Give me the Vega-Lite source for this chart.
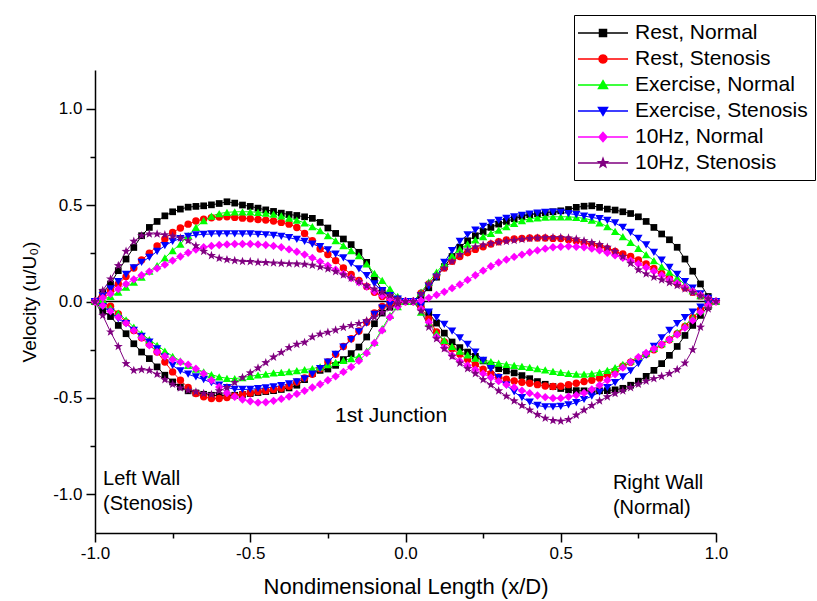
{
"$schema":"https://vega.github.io/schema/vega-lite/v6.json",
"width":621,"height":463,
"autosize":{"type":"none"},
"padding":{"left":95,"top":70,"right":101,"bottom":68},
"background":"white",
"config":{"view":{"stroke":null},"font":"Liberation Sans",
"axis":{"grid":false,"domainColor":"black","domainWidth":1.5,"tickColor":"black","tickWidth":1.5,"labelColor":"black","labelFont":"Liberation Sans","titleFont":"Liberation Sans","titleFontWeight":"normal","titleColor":"black","labelOverlap":false,"labelFlush":false}},
"data":{"values":[
{"s":"RN","x":-1,"y":0},{"s":"RN","x":-0.975,"y":0.048},{"s":"RN","x":-0.95,"y":0.091},{"s":"RN","x":-0.925,"y":0.16},{"s":"RN","x":-0.9,"y":0.22},{"s":"RN","x":-0.875,"y":0.28},{"s":"RN","x":-0.85,"y":0.341},{"s":"RN","x":-0.825,"y":0.384},{"s":"RN","x":-0.8,"y":0.415},{"s":"RN","x":-0.775,"y":0.444},{"s":"RN","x":-0.75,"y":0.465},{"s":"RN","x":-0.725,"y":0.479},{"s":"RN","x":-0.7,"y":0.489},{"s":"RN","x":-0.675,"y":0.493},{"s":"RN","x":-0.65,"y":0.496},{"s":"RN","x":-0.625,"y":0.501},{"s":"RN","x":-0.6,"y":0.508},{"s":"RN","x":-0.575,"y":0.517},{"s":"RN","x":-0.55,"y":0.51},{"s":"RN","x":-0.525,"y":0.5},{"s":"RN","x":-0.5,"y":0.493},{"s":"RN","x":-0.475,"y":0.484},{"s":"RN","x":-0.45,"y":0.475},{"s":"RN","x":-0.425,"y":0.467},{"s":"RN","x":-0.4,"y":0.458},{"s":"RN","x":-0.375,"y":0.451},{"s":"RN","x":-0.35,"y":0.446},{"s":"RN","x":-0.325,"y":0.439},{"s":"RN","x":-0.3,"y":0.431},{"s":"RN","x":-0.275,"y":0.41},{"s":"RN","x":-0.25,"y":0.381},{"s":"RN","x":-0.225,"y":0.353},{"s":"RN","x":-0.2,"y":0.324},{"s":"RN","x":-0.175,"y":0.295},{"s":"RN","x":-0.15,"y":0.255},{"s":"RN","x":-0.125,"y":0.203},{"s":"RN","x":-0.1,"y":0.122},{"s":"RN","x":-0.075,"y":0.057},{"s":"RN","x":-0.05,"y":0.028},{"s":"RN","x":-0.025,"y":0.012},{"s":"RN","x":0,"y":0},
{"s":"RN","x":0.025,"y":0},{"s":"RN","x":0.05,"y":0.031},{"s":"RN","x":0.075,"y":0.071},{"s":"RN","x":0.1,"y":0.126},{"s":"RN","x":0.125,"y":0.181},{"s":"RN","x":0.15,"y":0.233},{"s":"RN","x":0.175,"y":0.281},{"s":"RN","x":0.2,"y":0.315},{"s":"RN","x":0.225,"y":0.341},{"s":"RN","x":0.25,"y":0.363},{"s":"RN","x":0.275,"y":0.384},{"s":"RN","x":0.3,"y":0.401},{"s":"RN","x":0.325,"y":0.415},{"s":"RN","x":0.35,"y":0.429},{"s":"RN","x":0.375,"y":0.441},{"s":"RN","x":0.4,"y":0.45},{"s":"RN","x":0.425,"y":0.455},{"s":"RN","x":0.45,"y":0.46},{"s":"RN","x":0.475,"y":0.465},{"s":"RN","x":0.5,"y":0.47},{"s":"RN","x":0.525,"y":0.477},{"s":"RN","x":0.55,"y":0.488},{"s":"RN","x":0.575,"y":0.494},{"s":"RN","x":0.6,"y":0.496},{"s":"RN","x":0.625,"y":0.488},{"s":"RN","x":0.65,"y":0.479},{"s":"RN","x":0.675,"y":0.474},{"s":"RN","x":0.7,"y":0.465},{"s":"RN","x":0.725,"y":0.456},{"s":"RN","x":0.75,"y":0.439},{"s":"RN","x":0.775,"y":0.415},{"s":"RN","x":0.8,"y":0.384},{"s":"RN","x":0.825,"y":0.35},{"s":"RN","x":0.85,"y":0.32},{"s":"RN","x":0.875,"y":0.281},{"s":"RN","x":0.9,"y":0.22},{"s":"RN","x":0.925,"y":0.157},{"s":"RN","x":0.95,"y":0.091},{"s":"RN","x":0.975,"y":0.026},{"s":"RN","x":1,"y":0},
{"s":"RN","x":0.975,"y":-0.026},{"s":"RN","x":0.95,"y":-0.072},{"s":"RN","x":0.925,"y":-0.124},{"s":"RN","x":0.9,"y":-0.176},{"s":"RN","x":0.875,"y":-0.233},{"s":"RN","x":0.85,"y":-0.279},{"s":"RN","x":0.825,"y":-0.322},{"s":"RN","x":0.8,"y":-0.357},{"s":"RN","x":0.775,"y":-0.388},{"s":"RN","x":0.75,"y":-0.413},{"s":"RN","x":0.725,"y":-0.434},{"s":"RN","x":0.7,"y":-0.45},{"s":"RN","x":0.675,"y":-0.458},{"s":"RN","x":0.65,"y":-0.462},{"s":"RN","x":0.625,"y":-0.463},{"s":"RN","x":0.6,"y":-0.465},{"s":"RN","x":0.575,"y":-0.463},{"s":"RN","x":0.55,"y":-0.462},{"s":"RN","x":0.525,"y":-0.458},{"s":"RN","x":0.5,"y":-0.451},{"s":"RN","x":0.475,"y":-0.441},{"s":"RN","x":0.45,"y":-0.429},{"s":"RN","x":0.425,"y":-0.415},{"s":"RN","x":0.4,"y":-0.4},{"s":"RN","x":0.375,"y":-0.384},{"s":"RN","x":0.35,"y":-0.37},{"s":"RN","x":0.325,"y":-0.36},{"s":"RN","x":0.3,"y":-0.348},{"s":"RN","x":0.275,"y":-0.331},{"s":"RN","x":0.25,"y":-0.308},{"s":"RN","x":0.225,"y":-0.284},{"s":"RN","x":0.2,"y":-0.262},{"s":"RN","x":0.175,"y":-0.239},{"s":"RN","x":0.15,"y":-0.21},{"s":"RN","x":0.125,"y":-0.164},{"s":"RN","x":0.1,"y":-0.112},{"s":"RN","x":0.075,"y":-0.06},{"s":"RN","x":0.05,"y":-0.026},{"s":"RN","x":0.025,"y":0},
{"s":"RN","x":0,"y":0},{"s":"RN","x":-0.025,"y":-0.012},{"s":"RN","x":-0.05,"y":-0.029},{"s":"RN","x":-0.075,"y":-0.06},{"s":"RN","x":-0.1,"y":-0.115},{"s":"RN","x":-0.125,"y":-0.184},{"s":"RN","x":-0.15,"y":-0.236},{"s":"RN","x":-0.175,"y":-0.27},{"s":"RN","x":-0.2,"y":-0.301},{"s":"RN","x":-0.225,"y":-0.331},{"s":"RN","x":-0.25,"y":-0.35},{"s":"RN","x":-0.275,"y":-0.357},{"s":"RN","x":-0.3,"y":-0.374},{"s":"RN","x":-0.325,"y":-0.405},{"s":"RN","x":-0.35,"y":-0.434},{"s":"RN","x":-0.375,"y":-0.448},{"s":"RN","x":-0.4,"y":-0.456},{"s":"RN","x":-0.425,"y":-0.462},{"s":"RN","x":-0.45,"y":-0.467},{"s":"RN","x":-0.475,"y":-0.472},{"s":"RN","x":-0.5,"y":-0.477},{"s":"RN","x":-0.525,"y":-0.482},{"s":"RN","x":-0.55,"y":-0.486},{"s":"RN","x":-0.575,"y":-0.488},{"s":"RN","x":-0.6,"y":-0.488},{"s":"RN","x":-0.625,"y":-0.486},{"s":"RN","x":-0.65,"y":-0.481},{"s":"RN","x":-0.675,"y":-0.474},{"s":"RN","x":-0.7,"y":-0.463},{"s":"RN","x":-0.725,"y":-0.443},{"s":"RN","x":-0.75,"y":-0.417},{"s":"RN","x":-0.775,"y":-0.382},{"s":"RN","x":-0.8,"y":-0.339},{"s":"RN","x":-0.825,"y":-0.296},{"s":"RN","x":-0.85,"y":-0.262},{"s":"RN","x":-0.875,"y":-0.219},{"s":"RN","x":-0.9,"y":-0.167},{"s":"RN","x":-0.925,"y":-0.124},{"s":"RN","x":-0.95,"y":-0.078},{"s":"RN","x":-0.975,"y":-0.047},{"s":"RN","x":-1,"y":0},
{"s":"RS","x":-1,"y":0},{"s":"RS","x":-0.975,"y":0.026},{"s":"RS","x":-0.95,"y":0.057},{"s":"RS","x":-0.925,"y":0.091},{"s":"RS","x":-0.9,"y":0.129},{"s":"RS","x":-0.875,"y":0.174},{"s":"RS","x":-0.85,"y":0.215},{"s":"RS","x":-0.825,"y":0.25},{"s":"RS","x":-0.8,"y":0.288},{"s":"RS","x":-0.775,"y":0.324},{"s":"RS","x":-0.75,"y":0.358},{"s":"RS","x":-0.725,"y":0.381},{"s":"RS","x":-0.7,"y":0.401},{"s":"RS","x":-0.675,"y":0.417},{"s":"RS","x":-0.65,"y":0.427},{"s":"RS","x":-0.625,"y":0.434},{"s":"RS","x":-0.6,"y":0.438},{"s":"RS","x":-0.575,"y":0.439},{"s":"RS","x":-0.55,"y":0.436},{"s":"RS","x":-0.525,"y":0.432},{"s":"RS","x":-0.5,"y":0.429},{"s":"RS","x":-0.475,"y":0.425},{"s":"RS","x":-0.45,"y":0.422},{"s":"RS","x":-0.425,"y":0.417},{"s":"RS","x":-0.4,"y":0.41},{"s":"RS","x":-0.375,"y":0.401},{"s":"RS","x":-0.35,"y":0.384},{"s":"RS","x":-0.325,"y":0.353},{"s":"RS","x":-0.3,"y":0.315},{"s":"RS","x":-0.275,"y":0.272},{"s":"RS","x":-0.25,"y":0.243},{"s":"RS","x":-0.225,"y":0.212},{"s":"RS","x":-0.2,"y":0.174},{"s":"RS","x":-0.175,"y":0.14},{"s":"RS","x":-0.15,"y":0.109},{"s":"RS","x":-0.125,"y":0.078},{"s":"RS","x":-0.1,"y":0.048},{"s":"RS","x":-0.075,"y":0.026},{"s":"RS","x":-0.05,"y":0.012},{"s":"RS","x":-0.025,"y":0.003},{"s":"RS","x":0,"y":0},
{"s":"RS","x":0.025,"y":0},{"s":"RS","x":0.05,"y":0.043},{"s":"RS","x":0.075,"y":0.091},{"s":"RS","x":0.1,"y":0.134},{"s":"RS","x":0.125,"y":0.174},{"s":"RS","x":0.15,"y":0.208},{"s":"RS","x":0.175,"y":0.233},{"s":"RS","x":0.2,"y":0.253},{"s":"RS","x":0.225,"y":0.27},{"s":"RS","x":0.25,"y":0.284},{"s":"RS","x":0.275,"y":0.298},{"s":"RS","x":0.3,"y":0.31},{"s":"RS","x":0.325,"y":0.319},{"s":"RS","x":0.35,"y":0.324},{"s":"RS","x":0.375,"y":0.327},{"s":"RS","x":0.4,"y":0.329},{"s":"RS","x":0.425,"y":0.329},{"s":"RS","x":0.45,"y":0.329},{"s":"RS","x":0.475,"y":0.327},{"s":"RS","x":0.5,"y":0.326},{"s":"RS","x":0.525,"y":0.32},{"s":"RS","x":0.55,"y":0.314},{"s":"RS","x":0.575,"y":0.305},{"s":"RS","x":0.6,"y":0.296},{"s":"RS","x":0.625,"y":0.286},{"s":"RS","x":0.65,"y":0.274},{"s":"RS","x":0.675,"y":0.26},{"s":"RS","x":0.7,"y":0.246},{"s":"RS","x":0.725,"y":0.233},{"s":"RS","x":0.75,"y":0.215},{"s":"RS","x":0.775,"y":0.195},{"s":"RS","x":0.8,"y":0.171},{"s":"RS","x":0.825,"y":0.146},{"s":"RS","x":0.85,"y":0.121},{"s":"RS","x":0.875,"y":0.095},{"s":"RS","x":0.9,"y":0.071},{"s":"RS","x":0.925,"y":0.048},{"s":"RS","x":0.95,"y":0.029},{"s":"RS","x":0.975,"y":0.012},{"s":"RS","x":1,"y":0},
{"s":"RS","x":0.975,"y":-0.016},{"s":"RS","x":0.95,"y":-0.043},{"s":"RS","x":0.925,"y":-0.084},{"s":"RS","x":0.9,"y":-0.129},{"s":"RS","x":0.875,"y":-0.167},{"s":"RS","x":0.85,"y":-0.198},{"s":"RS","x":0.825,"y":-0.224},{"s":"RS","x":0.8,"y":-0.25},{"s":"RS","x":0.775,"y":-0.274},{"s":"RS","x":0.75,"y":-0.296},{"s":"RS","x":0.725,"y":-0.315},{"s":"RS","x":0.7,"y":-0.336},{"s":"RS","x":0.675,"y":-0.36},{"s":"RS","x":0.65,"y":-0.381},{"s":"RS","x":0.625,"y":-0.398},{"s":"RS","x":0.6,"y":-0.408},{"s":"RS","x":0.575,"y":-0.415},{"s":"RS","x":0.55,"y":-0.424},{"s":"RS","x":0.525,"y":-0.431},{"s":"RS","x":0.5,"y":-0.439},{"s":"RS","x":0.475,"y":-0.441},{"s":"RS","x":0.45,"y":-0.438},{"s":"RS","x":0.425,"y":-0.431},{"s":"RS","x":0.4,"y":-0.424},{"s":"RS","x":0.375,"y":-0.419},{"s":"RS","x":0.35,"y":-0.412},{"s":"RS","x":0.325,"y":-0.403},{"s":"RS","x":0.3,"y":-0.391},{"s":"RS","x":0.275,"y":-0.374},{"s":"RS","x":0.25,"y":-0.351},{"s":"RS","x":0.225,"y":-0.327},{"s":"RS","x":0.2,"y":-0.301},{"s":"RS","x":0.175,"y":-0.274},{"s":"RS","x":0.15,"y":-0.245},{"s":"RS","x":0.125,"y":-0.21},{"s":"RS","x":0.1,"y":-0.158},{"s":"RS","x":0.075,"y":-0.09},{"s":"RS","x":0.05,"y":-0.033},{"s":"RS","x":0.025,"y":0},
{"s":"RS","x":0,"y":0},{"s":"RS","x":-0.025,"y":-0.003},{"s":"RS","x":-0.05,"y":-0.012},{"s":"RS","x":-0.075,"y":-0.026},{"s":"RS","x":-0.1,"y":-0.06},{"s":"RS","x":-0.125,"y":-0.107},{"s":"RS","x":-0.15,"y":-0.153},{"s":"RS","x":-0.175,"y":-0.193},{"s":"RS","x":-0.2,"y":-0.233},{"s":"RS","x":-0.225,"y":-0.274},{"s":"RS","x":-0.25,"y":-0.314},{"s":"RS","x":-0.275,"y":-0.348},{"s":"RS","x":-0.3,"y":-0.377},{"s":"RS","x":-0.325,"y":-0.396},{"s":"RS","x":-0.35,"y":-0.417},{"s":"RS","x":-0.375,"y":-0.439},{"s":"RS","x":-0.4,"y":-0.45},{"s":"RS","x":-0.425,"y":-0.456},{"s":"RS","x":-0.45,"y":-0.462},{"s":"RS","x":-0.475,"y":-0.467},{"s":"RS","x":-0.5,"y":-0.474},{"s":"RS","x":-0.525,"y":-0.481},{"s":"RS","x":-0.55,"y":-0.489},{"s":"RS","x":-0.575,"y":-0.498},{"s":"RS","x":-0.6,"y":-0.503},{"s":"RS","x":-0.625,"y":-0.503},{"s":"RS","x":-0.65,"y":-0.494},{"s":"RS","x":-0.675,"y":-0.477},{"s":"RS","x":-0.7,"y":-0.446},{"s":"RS","x":-0.725,"y":-0.408},{"s":"RS","x":-0.75,"y":-0.365},{"s":"RS","x":-0.775,"y":-0.314},{"s":"RS","x":-0.8,"y":-0.262},{"s":"RS","x":-0.825,"y":-0.222},{"s":"RS","x":-0.85,"y":-0.188},{"s":"RS","x":-0.875,"y":-0.15},{"s":"RS","x":-0.9,"y":-0.107},{"s":"RS","x":-0.925,"y":-0.064},{"s":"RS","x":-0.95,"y":-0.024},{"s":"RS","x":-0.975,"y":-0.009},{"s":"RS","x":-1,"y":0},
{"s":"EN","x":-1,"y":0},{"s":"EN","x":-0.975,"y":0.01},{"s":"EN","x":-0.95,"y":0.026},{"s":"EN","x":-0.925,"y":0.048},{"s":"EN","x":-0.9,"y":0.074},{"s":"EN","x":-0.875,"y":0.1},{"s":"EN","x":-0.85,"y":0.126},{"s":"EN","x":-0.825,"y":0.157},{"s":"EN","x":-0.8,"y":0.186},{"s":"EN","x":-0.775,"y":0.226},{"s":"EN","x":-0.75,"y":0.264},{"s":"EN","x":-0.725,"y":0.298},{"s":"EN","x":-0.7,"y":0.341},{"s":"EN","x":-0.675,"y":0.384},{"s":"EN","x":-0.65,"y":0.419},{"s":"EN","x":-0.625,"y":0.443},{"s":"EN","x":-0.6,"y":0.456},{"s":"EN","x":-0.575,"y":0.462},{"s":"EN","x":-0.55,"y":0.465},{"s":"EN","x":-0.525,"y":0.465},{"s":"EN","x":-0.5,"y":0.465},{"s":"EN","x":-0.475,"y":0.462},{"s":"EN","x":-0.45,"y":0.458},{"s":"EN","x":-0.425,"y":0.453},{"s":"EN","x":-0.4,"y":0.444},{"s":"EN","x":-0.375,"y":0.432},{"s":"EN","x":-0.35,"y":0.422},{"s":"EN","x":-0.325,"y":0.407},{"s":"EN","x":-0.3,"y":0.388},{"s":"EN","x":-0.275,"y":0.367},{"s":"EN","x":-0.25,"y":0.341},{"s":"EN","x":-0.225,"y":0.315},{"s":"EN","x":-0.2,"y":0.289},{"s":"EN","x":-0.175,"y":0.264},{"s":"EN","x":-0.15,"y":0.238},{"s":"EN","x":-0.125,"y":0.195},{"s":"EN","x":-0.1,"y":0.146},{"s":"EN","x":-0.075,"y":0.109},{"s":"EN","x":-0.05,"y":0.065},{"s":"EN","x":-0.025,"y":0.026},{"s":"EN","x":0,"y":0},
{"s":"EN","x":0.025,"y":0},{"s":"EN","x":0.05,"y":0.048},{"s":"EN","x":0.075,"y":0.1},{"s":"EN","x":0.1,"y":0.152},{"s":"EN","x":0.125,"y":0.198},{"s":"EN","x":0.15,"y":0.238},{"s":"EN","x":0.175,"y":0.272},{"s":"EN","x":0.2,"y":0.298},{"s":"EN","x":0.225,"y":0.319},{"s":"EN","x":0.25,"y":0.336},{"s":"EN","x":0.275,"y":0.353},{"s":"EN","x":0.3,"y":0.37},{"s":"EN","x":0.325,"y":0.388},{"s":"EN","x":0.35,"y":0.405},{"s":"EN","x":0.375,"y":0.419},{"s":"EN","x":0.4,"y":0.429},{"s":"EN","x":0.425,"y":0.434},{"s":"EN","x":0.45,"y":0.438},{"s":"EN","x":0.475,"y":0.439},{"s":"EN","x":0.5,"y":0.439},{"s":"EN","x":0.525,"y":0.439},{"s":"EN","x":0.55,"y":0.436},{"s":"EN","x":0.575,"y":0.431},{"s":"EN","x":0.6,"y":0.422},{"s":"EN","x":0.625,"y":0.408},{"s":"EN","x":0.65,"y":0.388},{"s":"EN","x":0.675,"y":0.363},{"s":"EN","x":0.7,"y":0.336},{"s":"EN","x":0.725,"y":0.307},{"s":"EN","x":0.75,"y":0.276},{"s":"EN","x":0.775,"y":0.243},{"s":"EN","x":0.8,"y":0.212},{"s":"EN","x":0.825,"y":0.181},{"s":"EN","x":0.85,"y":0.152},{"s":"EN","x":0.875,"y":0.122},{"s":"EN","x":0.9,"y":0.088},{"s":"EN","x":0.925,"y":0.057},{"s":"EN","x":0.95,"y":0.031},{"s":"EN","x":0.975,"y":0.012},{"s":"EN","x":1,"y":0},
{"s":"EN","x":0.975,"y":-0.017},{"s":"EN","x":0.95,"y":-0.047},{"s":"EN","x":0.925,"y":-0.084},{"s":"EN","x":0.9,"y":-0.124},{"s":"EN","x":0.875,"y":-0.16},{"s":"EN","x":0.85,"y":-0.191},{"s":"EN","x":0.825,"y":-0.219},{"s":"EN","x":0.8,"y":-0.243},{"s":"EN","x":0.775,"y":-0.267},{"s":"EN","x":0.75,"y":-0.288},{"s":"EN","x":0.725,"y":-0.308},{"s":"EN","x":0.7,"y":-0.326},{"s":"EN","x":0.675,"y":-0.343},{"s":"EN","x":0.65,"y":-0.357},{"s":"EN","x":0.625,"y":-0.367},{"s":"EN","x":0.6,"y":-0.374},{"s":"EN","x":0.575,"y":-0.377},{"s":"EN","x":0.55,"y":-0.376},{"s":"EN","x":0.525,"y":-0.372},{"s":"EN","x":0.5,"y":-0.367},{"s":"EN","x":0.475,"y":-0.362},{"s":"EN","x":0.45,"y":-0.355},{"s":"EN","x":0.425,"y":-0.348},{"s":"EN","x":0.4,"y":-0.341},{"s":"EN","x":0.375,"y":-0.336},{"s":"EN","x":0.35,"y":-0.331},{"s":"EN","x":0.325,"y":-0.326},{"s":"EN","x":0.3,"y":-0.319},{"s":"EN","x":0.275,"y":-0.312},{"s":"EN","x":0.25,"y":-0.303},{"s":"EN","x":0.225,"y":-0.293},{"s":"EN","x":0.2,"y":-0.277},{"s":"EN","x":0.175,"y":-0.257},{"s":"EN","x":0.15,"y":-0.233},{"s":"EN","x":0.125,"y":-0.202},{"s":"EN","x":0.1,"y":-0.164},{"s":"EN","x":0.075,"y":-0.112},{"s":"EN","x":0.05,"y":-0.055},{"s":"EN","x":0.025,"y":0},
{"s":"EN","x":0,"y":0},{"s":"EN","x":-0.025,"y":-0.026},{"s":"EN","x":-0.05,"y":-0.072},{"s":"EN","x":-0.075,"y":-0.141},{"s":"EN","x":-0.1,"y":-0.21},{"s":"EN","x":-0.125,"y":-0.257},{"s":"EN","x":-0.15,"y":-0.284},{"s":"EN","x":-0.175,"y":-0.296},{"s":"EN","x":-0.2,"y":-0.305},{"s":"EN","x":-0.225,"y":-0.315},{"s":"EN","x":-0.25,"y":-0.327},{"s":"EN","x":-0.275,"y":-0.339},{"s":"EN","x":-0.3,"y":-0.348},{"s":"EN","x":-0.325,"y":-0.353},{"s":"EN","x":-0.35,"y":-0.358},{"s":"EN","x":-0.375,"y":-0.363},{"s":"EN","x":-0.4,"y":-0.367},{"s":"EN","x":-0.425,"y":-0.37},{"s":"EN","x":-0.45,"y":-0.376},{"s":"EN","x":-0.475,"y":-0.381},{"s":"EN","x":-0.5,"y":-0.388},{"s":"EN","x":-0.525,"y":-0.394},{"s":"EN","x":-0.55,"y":-0.4},{"s":"EN","x":-0.575,"y":-0.398},{"s":"EN","x":-0.6,"y":-0.391},{"s":"EN","x":-0.625,"y":-0.379},{"s":"EN","x":-0.65,"y":-0.365},{"s":"EN","x":-0.675,"y":-0.35},{"s":"EN","x":-0.7,"y":-0.331},{"s":"EN","x":-0.725,"y":-0.308},{"s":"EN","x":-0.75,"y":-0.284},{"s":"EN","x":-0.775,"y":-0.257},{"s":"EN","x":-0.8,"y":-0.227},{"s":"EN","x":-0.825,"y":-0.198},{"s":"EN","x":-0.85,"y":-0.167},{"s":"EN","x":-0.875,"y":-0.133},{"s":"EN","x":-0.9,"y":-0.095},{"s":"EN","x":-0.925,"y":-0.06},{"s":"EN","x":-0.95,"y":-0.033},{"s":"EN","x":-0.975,"y":-0.016},{"s":"EN","x":-1,"y":0},
{"s":"ES","x":-1,"y":0},{"s":"ES","x":-0.975,"y":0.031},{"s":"ES","x":-0.95,"y":0.065},{"s":"ES","x":-0.925,"y":0.103},{"s":"ES","x":-0.9,"y":0.14},{"s":"ES","x":-0.875,"y":0.174},{"s":"ES","x":-0.85,"y":0.203},{"s":"ES","x":-0.825,"y":0.229},{"s":"ES","x":-0.8,"y":0.26},{"s":"ES","x":-0.775,"y":0.289},{"s":"ES","x":-0.75,"y":0.312},{"s":"ES","x":-0.725,"y":0.326},{"s":"ES","x":-0.7,"y":0.338},{"s":"ES","x":-0.675,"y":0.345},{"s":"ES","x":-0.65,"y":0.348},{"s":"ES","x":-0.625,"y":0.35},{"s":"ES","x":-0.6,"y":0.351},{"s":"ES","x":-0.575,"y":0.351},{"s":"ES","x":-0.55,"y":0.351},{"s":"ES","x":-0.525,"y":0.35},{"s":"ES","x":-0.5,"y":0.35},{"s":"ES","x":-0.475,"y":0.348},{"s":"ES","x":-0.45,"y":0.346},{"s":"ES","x":-0.425,"y":0.343},{"s":"ES","x":-0.4,"y":0.338},{"s":"ES","x":-0.375,"y":0.331},{"s":"ES","x":-0.35,"y":0.322},{"s":"ES","x":-0.325,"y":0.312},{"s":"ES","x":-0.3,"y":0.298},{"s":"ES","x":-0.275,"y":0.284},{"s":"ES","x":-0.25,"y":0.267},{"s":"ES","x":-0.225,"y":0.246},{"s":"ES","x":-0.2,"y":0.226},{"s":"ES","x":-0.175,"y":0.198},{"s":"ES","x":-0.15,"y":0.169},{"s":"ES","x":-0.125,"y":0.134},{"s":"ES","x":-0.1,"y":0.091},{"s":"ES","x":-0.075,"y":0.057},{"s":"ES","x":-0.05,"y":0.031},{"s":"ES","x":-0.025,"y":0.012},{"s":"ES","x":0,"y":0},
{"s":"ES","x":0.025,"y":0},{"s":"ES","x":0.05,"y":0.031},{"s":"ES","x":0.075,"y":0.078},{"s":"ES","x":0.1,"y":0.126},{"s":"ES","x":0.125,"y":0.203},{"s":"ES","x":0.15,"y":0.264},{"s":"ES","x":0.175,"y":0.312},{"s":"ES","x":0.2,"y":0.346},{"s":"ES","x":0.225,"y":0.37},{"s":"ES","x":0.25,"y":0.389},{"s":"ES","x":0.275,"y":0.407},{"s":"ES","x":0.3,"y":0.42},{"s":"ES","x":0.325,"y":0.431},{"s":"ES","x":0.35,"y":0.439},{"s":"ES","x":0.375,"y":0.446},{"s":"ES","x":0.4,"y":0.453},{"s":"ES","x":0.425,"y":0.458},{"s":"ES","x":0.45,"y":0.462},{"s":"ES","x":0.475,"y":0.463},{"s":"ES","x":0.5,"y":0.462},{"s":"ES","x":0.525,"y":0.456},{"s":"ES","x":0.55,"y":0.45},{"s":"ES","x":0.575,"y":0.443},{"s":"ES","x":0.6,"y":0.436},{"s":"ES","x":0.625,"y":0.429},{"s":"ES","x":0.65,"y":0.42},{"s":"ES","x":0.675,"y":0.407},{"s":"ES","x":0.7,"y":0.384},{"s":"ES","x":0.725,"y":0.358},{"s":"ES","x":0.75,"y":0.327},{"s":"ES","x":0.775,"y":0.293},{"s":"ES","x":0.8,"y":0.255},{"s":"ES","x":0.825,"y":0.215},{"s":"ES","x":0.85,"y":0.177},{"s":"ES","x":0.875,"y":0.14},{"s":"ES","x":0.9,"y":0.103},{"s":"ES","x":0.925,"y":0.069},{"s":"ES","x":0.95,"y":0.04},{"s":"ES","x":0.975,"y":0.016},{"s":"ES","x":1,"y":0},
{"s":"ES","x":0.975,"y":-0.012},{"s":"ES","x":0.95,"y":-0.029},{"s":"ES","x":0.925,"y":-0.055},{"s":"ES","x":0.9,"y":-0.084},{"s":"ES","x":0.875,"y":-0.115},{"s":"ES","x":0.85,"y":-0.15},{"s":"ES","x":0.825,"y":-0.188},{"s":"ES","x":0.8,"y":-0.233},{"s":"ES","x":0.775,"y":-0.279},{"s":"ES","x":0.75,"y":-0.322},{"s":"ES","x":0.725,"y":-0.36},{"s":"ES","x":0.7,"y":-0.391},{"s":"ES","x":0.675,"y":-0.42},{"s":"ES","x":0.65,"y":-0.446},{"s":"ES","x":0.625,"y":-0.47},{"s":"ES","x":0.6,"y":-0.491},{"s":"ES","x":0.575,"y":-0.508},{"s":"ES","x":0.55,"y":-0.524},{"s":"ES","x":0.525,"y":-0.536},{"s":"ES","x":0.5,"y":-0.544},{"s":"ES","x":0.475,"y":-0.546},{"s":"ES","x":0.45,"y":-0.546},{"s":"ES","x":0.425,"y":-0.539},{"s":"ES","x":0.4,"y":-0.522},{"s":"ES","x":0.375,"y":-0.498},{"s":"ES","x":0.35,"y":-0.469},{"s":"ES","x":0.325,"y":-0.434},{"s":"ES","x":0.3,"y":-0.394},{"s":"ES","x":0.275,"y":-0.348},{"s":"ES","x":0.25,"y":-0.305},{"s":"ES","x":0.225,"y":-0.262},{"s":"ES","x":0.2,"y":-0.222},{"s":"ES","x":0.175,"y":-0.188},{"s":"ES","x":0.15,"y":-0.153},{"s":"ES","x":0.125,"y":-0.119},{"s":"ES","x":0.1,"y":-0.084},{"s":"ES","x":0.075,"y":-0.055},{"s":"ES","x":0.05,"y":-0.021},{"s":"ES","x":0.025,"y":0},
{"s":"ES","x":0,"y":0},{"s":"ES","x":-0.025,"y":-0.005},{"s":"ES","x":-0.05,"y":-0.016},{"s":"ES","x":-0.075,"y":-0.034},{"s":"ES","x":-0.1,"y":-0.067},{"s":"ES","x":-0.125,"y":-0.112},{"s":"ES","x":-0.15,"y":-0.158},{"s":"ES","x":-0.175,"y":-0.198},{"s":"ES","x":-0.2,"y":-0.236},{"s":"ES","x":-0.225,"y":-0.274},{"s":"ES","x":-0.25,"y":-0.314},{"s":"ES","x":-0.275,"y":-0.348},{"s":"ES","x":-0.3,"y":-0.377},{"s":"ES","x":-0.325,"y":-0.401},{"s":"ES","x":-0.35,"y":-0.417},{"s":"ES","x":-0.375,"y":-0.427},{"s":"ES","x":-0.4,"y":-0.436},{"s":"ES","x":-0.425,"y":-0.443},{"s":"ES","x":-0.45,"y":-0.448},{"s":"ES","x":-0.475,"y":-0.451},{"s":"ES","x":-0.5,"y":-0.455},{"s":"ES","x":-0.525,"y":-0.456},{"s":"ES","x":-0.55,"y":-0.455},{"s":"ES","x":-0.575,"y":-0.446},{"s":"ES","x":-0.6,"y":-0.434},{"s":"ES","x":-0.625,"y":-0.42},{"s":"ES","x":-0.65,"y":-0.405},{"s":"ES","x":-0.675,"y":-0.391},{"s":"ES","x":-0.7,"y":-0.377},{"s":"ES","x":-0.725,"y":-0.36},{"s":"ES","x":-0.75,"y":-0.331},{"s":"ES","x":-0.775,"y":-0.288},{"s":"ES","x":-0.8,"y":-0.245},{"s":"ES","x":-0.825,"y":-0.21},{"s":"ES","x":-0.85,"y":-0.181},{"s":"ES","x":-0.875,"y":-0.15},{"s":"ES","x":-0.9,"y":-0.115},{"s":"ES","x":-0.925,"y":-0.09},{"s":"ES","x":-0.95,"y":-0.055},{"s":"ES","x":-0.975,"y":-0.026},{"s":"ES","x":-1,"y":0},
{"s":"HN","x":-1,"y":0},{"s":"HN","x":-0.975,"y":0.019},{"s":"HN","x":-0.95,"y":0.04},{"s":"HN","x":-0.925,"y":0.065},{"s":"HN","x":-0.9,"y":0.091},{"s":"HN","x":-0.875,"y":0.115},{"s":"HN","x":-0.85,"y":0.136},{"s":"HN","x":-0.825,"y":0.155},{"s":"HN","x":-0.8,"y":0.172},{"s":"HN","x":-0.775,"y":0.191},{"s":"HN","x":-0.75,"y":0.212},{"s":"HN","x":-0.725,"y":0.233},{"s":"HN","x":-0.7,"y":0.253},{"s":"HN","x":-0.675,"y":0.269},{"s":"HN","x":-0.65,"y":0.281},{"s":"HN","x":-0.625,"y":0.288},{"s":"HN","x":-0.6,"y":0.293},{"s":"HN","x":-0.575,"y":0.296},{"s":"HN","x":-0.55,"y":0.298},{"s":"HN","x":-0.525,"y":0.298},{"s":"HN","x":-0.5,"y":0.298},{"s":"HN","x":-0.475,"y":0.296},{"s":"HN","x":-0.45,"y":0.293},{"s":"HN","x":-0.425,"y":0.288},{"s":"HN","x":-0.4,"y":0.281},{"s":"HN","x":-0.375,"y":0.27},{"s":"HN","x":-0.35,"y":0.258},{"s":"HN","x":-0.325,"y":0.243},{"s":"HN","x":-0.3,"y":0.226},{"s":"HN","x":-0.275,"y":0.207},{"s":"HN","x":-0.25,"y":0.186},{"s":"HN","x":-0.225,"y":0.165},{"s":"HN","x":-0.2,"y":0.143},{"s":"HN","x":-0.175,"y":0.122},{"s":"HN","x":-0.15,"y":0.1},{"s":"HN","x":-0.125,"y":0.078},{"s":"HN","x":-0.1,"y":0.053},{"s":"HN","x":-0.075,"y":0.031},{"s":"HN","x":-0.05,"y":0.016},{"s":"HN","x":-0.025,"y":0.005},{"s":"HN","x":0,"y":0},
{"s":"HN","x":0.025,"y":0},{"s":"HN","x":0.05,"y":0.005},{"s":"HN","x":0.075,"y":0.019},{"s":"HN","x":0.1,"y":0.034},{"s":"HN","x":0.125,"y":0.05},{"s":"HN","x":0.15,"y":0.069},{"s":"HN","x":0.175,"y":0.088},{"s":"HN","x":0.2,"y":0.112},{"s":"HN","x":0.225,"y":0.136},{"s":"HN","x":0.25,"y":0.16},{"s":"HN","x":0.275,"y":0.183},{"s":"HN","x":0.3,"y":0.202},{"s":"HN","x":0.325,"y":0.217},{"s":"HN","x":0.35,"y":0.231},{"s":"HN","x":0.375,"y":0.243},{"s":"HN","x":0.4,"y":0.255},{"s":"HN","x":0.425,"y":0.265},{"s":"HN","x":0.45,"y":0.274},{"s":"HN","x":0.475,"y":0.281},{"s":"HN","x":0.5,"y":0.284},{"s":"HN","x":0.525,"y":0.286},{"s":"HN","x":0.55,"y":0.284},{"s":"HN","x":0.575,"y":0.281},{"s":"HN","x":0.6,"y":0.274},{"s":"HN","x":0.625,"y":0.265},{"s":"HN","x":0.65,"y":0.253},{"s":"HN","x":0.675,"y":0.239},{"s":"HN","x":0.7,"y":0.226},{"s":"HN","x":0.725,"y":0.212},{"s":"HN","x":0.75,"y":0.195},{"s":"HN","x":0.775,"y":0.176},{"s":"HN","x":0.8,"y":0.157},{"s":"HN","x":0.825,"y":0.136},{"s":"HN","x":0.85,"y":0.115},{"s":"HN","x":0.875,"y":0.095},{"s":"HN","x":0.9,"y":0.074},{"s":"HN","x":0.925,"y":0.053},{"s":"HN","x":0.95,"y":0.034},{"s":"HN","x":0.975,"y":0.016},{"s":"HN","x":1,"y":0},
{"s":"HN","x":0.975,"y":-0.019},{"s":"HN","x":0.95,"y":-0.055},{"s":"HN","x":0.925,"y":-0.098},{"s":"HN","x":0.9,"y":-0.136},{"s":"HN","x":0.875,"y":-0.171},{"s":"HN","x":0.85,"y":-0.198},{"s":"HN","x":0.825,"y":-0.222},{"s":"HN","x":0.8,"y":-0.245},{"s":"HN","x":0.775,"y":-0.267},{"s":"HN","x":0.75,"y":-0.288},{"s":"HN","x":0.725,"y":-0.314},{"s":"HN","x":0.7,"y":-0.343},{"s":"HN","x":0.675,"y":-0.377},{"s":"HN","x":0.65,"y":-0.408},{"s":"HN","x":0.625,"y":-0.434},{"s":"HN","x":0.6,"y":-0.456},{"s":"HN","x":0.575,"y":-0.474},{"s":"HN","x":0.55,"y":-0.486},{"s":"HN","x":0.525,"y":-0.494},{"s":"HN","x":0.5,"y":-0.501},{"s":"HN","x":0.475,"y":-0.501},{"s":"HN","x":0.45,"y":-0.496},{"s":"HN","x":0.425,"y":-0.487},{"s":"HN","x":0.4,"y":-0.475},{"s":"HN","x":0.375,"y":-0.462},{"s":"HN","x":0.35,"y":-0.446},{"s":"HN","x":0.325,"y":-0.431},{"s":"HN","x":0.3,"y":-0.413},{"s":"HN","x":0.275,"y":-0.394},{"s":"HN","x":0.25,"y":-0.374},{"s":"HN","x":0.225,"y":-0.353},{"s":"HN","x":0.2,"y":-0.332},{"s":"HN","x":0.175,"y":-0.308},{"s":"HN","x":0.15,"y":-0.279},{"s":"HN","x":0.125,"y":-0.239},{"s":"HN","x":0.1,"y":-0.184},{"s":"HN","x":0.075,"y":-0.107},{"s":"HN","x":0.05,"y":-0.038},{"s":"HN","x":0.025,"y":0},
{"s":"HN","x":0,"y":0},{"s":"HN","x":-0.025,"y":-0.026},{"s":"HN","x":-0.05,"y":-0.081},{"s":"HN","x":-0.075,"y":-0.15},{"s":"HN","x":-0.1,"y":-0.215},{"s":"HN","x":-0.125,"y":-0.267},{"s":"HN","x":-0.15,"y":-0.308},{"s":"HN","x":-0.175,"y":-0.339},{"s":"HN","x":-0.2,"y":-0.365},{"s":"HN","x":-0.225,"y":-0.388},{"s":"HN","x":-0.25,"y":-0.408},{"s":"HN","x":-0.275,"y":-0.429},{"s":"HN","x":-0.3,"y":-0.446},{"s":"HN","x":-0.325,"y":-0.463},{"s":"HN","x":-0.35,"y":-0.479},{"s":"HN","x":-0.375,"y":-0.493},{"s":"HN","x":-0.4,"y":-0.505},{"s":"HN","x":-0.425,"y":-0.515},{"s":"HN","x":-0.45,"y":-0.522},{"s":"HN","x":-0.475,"y":-0.524},{"s":"HN","x":-0.5,"y":-0.517},{"s":"HN","x":-0.525,"y":-0.508},{"s":"HN","x":-0.55,"y":-0.494},{"s":"HN","x":-0.575,"y":-0.474},{"s":"HN","x":-0.6,"y":-0.443},{"s":"HN","x":-0.625,"y":-0.408},{"s":"HN","x":-0.65,"y":-0.374},{"s":"HN","x":-0.675,"y":-0.348},{"s":"HN","x":-0.7,"y":-0.327},{"s":"HN","x":-0.725,"y":-0.314},{"s":"HN","x":-0.75,"y":-0.301},{"s":"HN","x":-0.775,"y":-0.284},{"s":"HN","x":-0.8,"y":-0.262},{"s":"HN","x":-0.825,"y":-0.227},{"s":"HN","x":-0.85,"y":-0.188},{"s":"HN","x":-0.875,"y":-0.15},{"s":"HN","x":-0.9,"y":-0.112},{"s":"HN","x":-0.925,"y":-0.081},{"s":"HN","x":-0.95,"y":-0.05},{"s":"HN","x":-0.975,"y":-0.021},{"s":"HN","x":-1,"y":0},
{"s":"HS","x":-1,"y":0},{"s":"HS","x":-0.975,"y":0.057},{"s":"HS","x":-0.95,"y":0.117},{"s":"HS","x":-0.925,"y":0.186},{"s":"HS","x":-0.9,"y":0.26},{"s":"HS","x":-0.875,"y":0.312},{"s":"HS","x":-0.85,"y":0.341},{"s":"HS","x":-0.825,"y":0.35},{"s":"HS","x":-0.8,"y":0.35},{"s":"HS","x":-0.775,"y":0.346},{"s":"HS","x":-0.75,"y":0.339},{"s":"HS","x":-0.725,"y":0.329},{"s":"HS","x":-0.7,"y":0.315},{"s":"HS","x":-0.675,"y":0.289},{"s":"HS","x":-0.65,"y":0.26},{"s":"HS","x":-0.625,"y":0.238},{"s":"HS","x":-0.6,"y":0.224},{"s":"HS","x":-0.575,"y":0.217},{"s":"HS","x":-0.55,"y":0.212},{"s":"HS","x":-0.525,"y":0.208},{"s":"HS","x":-0.5,"y":0.207},{"s":"HS","x":-0.475,"y":0.203},{"s":"HS","x":-0.45,"y":0.202},{"s":"HS","x":-0.425,"y":0.2},{"s":"HS","x":-0.4,"y":0.198},{"s":"HS","x":-0.375,"y":0.196},{"s":"HS","x":-0.35,"y":0.195},{"s":"HS","x":-0.325,"y":0.193},{"s":"HS","x":-0.3,"y":0.188},{"s":"HS","x":-0.275,"y":0.179},{"s":"HS","x":-0.25,"y":0.169},{"s":"HS","x":-0.225,"y":0.155},{"s":"HS","x":-0.2,"y":0.138},{"s":"HS","x":-0.175,"y":0.121},{"s":"HS","x":-0.15,"y":0.102},{"s":"HS","x":-0.125,"y":0.081},{"s":"HS","x":-0.1,"y":0.065},{"s":"HS","x":-0.075,"y":0.048},{"s":"HS","x":-0.05,"y":0.031},{"s":"HS","x":-0.025,"y":0.014},{"s":"HS","x":0,"y":0},
{"s":"HS","x":0.025,"y":0},{"s":"HS","x":0.05,"y":0.04},{"s":"HS","x":0.075,"y":0.091},{"s":"HS","x":0.1,"y":0.134},{"s":"HS","x":0.125,"y":0.174},{"s":"HS","x":0.15,"y":0.208},{"s":"HS","x":0.175,"y":0.243},{"s":"HS","x":0.2,"y":0.267},{"s":"HS","x":0.225,"y":0.283},{"s":"HS","x":0.25,"y":0.293},{"s":"HS","x":0.275,"y":0.3},{"s":"HS","x":0.3,"y":0.307},{"s":"HS","x":0.325,"y":0.312},{"s":"HS","x":0.35,"y":0.317},{"s":"HS","x":0.375,"y":0.322},{"s":"HS","x":0.4,"y":0.327},{"s":"HS","x":0.425,"y":0.329},{"s":"HS","x":0.45,"y":0.331},{"s":"HS","x":0.475,"y":0.332},{"s":"HS","x":0.5,"y":0.332},{"s":"HS","x":0.525,"y":0.329},{"s":"HS","x":0.55,"y":0.324},{"s":"HS","x":0.575,"y":0.315},{"s":"HS","x":0.6,"y":0.305},{"s":"HS","x":0.625,"y":0.295},{"s":"HS","x":0.65,"y":0.281},{"s":"HS","x":0.675,"y":0.26},{"s":"HS","x":0.7,"y":0.233},{"s":"HS","x":0.725,"y":0.198},{"s":"HS","x":0.75,"y":0.164},{"s":"HS","x":0.775,"y":0.143},{"s":"HS","x":0.8,"y":0.126},{"s":"HS","x":0.825,"y":0.112},{"s":"HS","x":0.85,"y":0.098},{"s":"HS","x":0.875,"y":0.083},{"s":"HS","x":0.9,"y":0.065},{"s":"HS","x":0.925,"y":0.047},{"s":"HS","x":0.95,"y":0.029},{"s":"HS","x":0.975,"y":0.014},{"s":"HS","x":1,"y":0},
{"s":"HS","x":0.975,"y":-0.038},{"s":"HS","x":0.95,"y":-0.133},{"s":"HS","x":0.925,"y":-0.25},{"s":"HS","x":0.9,"y":-0.319},{"s":"HS","x":0.875,"y":-0.353},{"s":"HS","x":0.85,"y":-0.374},{"s":"HS","x":0.825,"y":-0.388},{"s":"HS","x":0.8,"y":-0.4},{"s":"HS","x":0.775,"y":-0.413},{"s":"HS","x":0.75,"y":-0.429},{"s":"HS","x":0.725,"y":-0.446},{"s":"HS","x":0.7,"y":-0.463},{"s":"HS","x":0.675,"y":-0.477},{"s":"HS","x":0.65,"y":-0.494},{"s":"HS","x":0.625,"y":-0.515},{"s":"HS","x":0.6,"y":-0.539},{"s":"HS","x":0.575,"y":-0.563},{"s":"HS","x":0.55,"y":-0.589},{"s":"HS","x":0.525,"y":-0.612},{"s":"HS","x":0.5,"y":-0.62},{"s":"HS","x":0.475,"y":-0.617},{"s":"HS","x":0.45,"y":-0.605},{"s":"HS","x":0.425,"y":-0.586},{"s":"HS","x":0.4,"y":-0.563},{"s":"HS","x":0.375,"y":-0.539},{"s":"HS","x":0.35,"y":-0.515},{"s":"HS","x":0.325,"y":-0.491},{"s":"HS","x":0.3,"y":-0.463},{"s":"HS","x":0.275,"y":-0.432},{"s":"HS","x":0.25,"y":-0.405},{"s":"HS","x":0.225,"y":-0.374},{"s":"HS","x":0.2,"y":-0.348},{"s":"HS","x":0.175,"y":-0.319},{"s":"HS","x":0.15,"y":-0.284},{"s":"HS","x":0.125,"y":-0.245},{"s":"HS","x":0.1,"y":-0.193},{"s":"HS","x":0.075,"y":-0.133},{"s":"HS","x":0.05,"y":-0.05},{"s":"HS","x":0.025,"y":0},
{"s":"HS","x":0,"y":0},{"s":"HS","x":-0.025,"y":-0.012},{"s":"HS","x":-0.05,"y":-0.033},{"s":"HS","x":-0.075,"y":-0.057},{"s":"HS","x":-0.1,"y":-0.081},{"s":"HS","x":-0.125,"y":-0.1},{"s":"HS","x":-0.15,"y":-0.114},{"s":"HS","x":-0.175,"y":-0.124},{"s":"HS","x":-0.2,"y":-0.134},{"s":"HS","x":-0.225,"y":-0.148},{"s":"HS","x":-0.25,"y":-0.16},{"s":"HS","x":-0.275,"y":-0.169},{"s":"HS","x":-0.3,"y":-0.184},{"s":"HS","x":-0.325,"y":-0.212},{"s":"HS","x":-0.35,"y":-0.222},{"s":"HS","x":-0.375,"y":-0.239},{"s":"HS","x":-0.4,"y":-0.264},{"s":"HS","x":-0.425,"y":-0.288},{"s":"HS","x":-0.45,"y":-0.317},{"s":"HS","x":-0.475,"y":-0.345},{"s":"HS","x":-0.5,"y":-0.37},{"s":"HS","x":-0.525,"y":-0.394},{"s":"HS","x":-0.55,"y":-0.42},{"s":"HS","x":-0.575,"y":-0.446},{"s":"HS","x":-0.6,"y":-0.463},{"s":"HS","x":-0.625,"y":-0.482},{"s":"HS","x":-0.65,"y":-0.477},{"s":"HS","x":-0.675,"y":-0.469},{"s":"HS","x":-0.7,"y":-0.46},{"s":"HS","x":-0.725,"y":-0.448},{"s":"HS","x":-0.75,"y":-0.429},{"s":"HS","x":-0.775,"y":-0.405},{"s":"HS","x":-0.8,"y":-0.377},{"s":"HS","x":-0.825,"y":-0.357},{"s":"HS","x":-0.85,"y":-0.353},{"s":"HS","x":-0.875,"y":-0.357},{"s":"HS","x":-0.9,"y":-0.322},{"s":"HS","x":-0.925,"y":-0.233},{"s":"HS","x":-0.95,"y":-0.158},{"s":"HS","x":-0.975,"y":-0.072},{"s":"HS","x":-1,"y":0}
]},
"layer":[
{"data":{"values":[{}]},
 "mark":{"type":"rule","color":"black","strokeWidth":1.5},
 "encoding":{"y":{"datum":0,"type":"quantitative","scale":{"domain":[-1.2,1.2],"nice":false,"zero":false},"axis":null}}},
{"transform":[{"window":[{"op":"row_number","as":"i"}]}],
 "mark":{"type":"line","strokeWidth":1},
 "encoding":{
  "x":{"field":"x","type":"quantitative","scale":{"domain":[-1,1],"nice":false,"zero":false},
   "axis":{"orient":"bottom","title":"Nondimensional Length (x/D)","values":[-1,-0.5,0,0.5,1],
    "labelExpr":"(datum.value<0?'-':'')+format(abs(datum.value),'.1f')",
    "tickSize":9,"labelFontSize":17,"labelPadding":3,"titleFontSize":22,"titlePadding":15}},
  "y":{"field":"y","type":"quantitative","scale":{"domain":[-1.2,1.2],"nice":false,"zero":false},
   "axis":{"orient":"left","title":"Velocity (u/U₀)","values":[-1,-0.5,0,0.5,1],
    "labelExpr":"(datum.value<0?'-':'')+format(abs(datum.value),'.1f')",
    "tickSize":9,"labelFontSize":17,"labelPadding":4,"titleFontSize":19,"titlePadding":13}},
  "color":{"field":"s","type":"nominal","scale":{"domain":["RN","RS","EN","ES","HN","HS"],"range":["#000000","#ff0000","#00ff00","#0000ff","#ff00ff","#800080"]}},
  "order":{"field":"i","type":"quantitative"}}},
{"mark":{"type":"point","filled":true,"opacity":1},
 "encoding":{
  "x":{"field":"x","type":"quantitative","axis":{"orient":"bottom","values":[-0.75,-0.25,0.25,0.75],"tickSize":5,"labels":false,"domain":false,"title":null}},
  "y":{"field":"y","type":"quantitative","axis":{"orient":"left","values":[-0.75,-0.25,0.25,0.75],"tickSize":5,"labels":false,"domain":false,"title":null}},
  "color":{"field":"s","type":"nominal"},
  "shape":{"condition":[{"test":"datum.s=='RN'","value":"square"},{"test":"datum.s=='RS'","value":"circle"},{"test":"datum.s=='EN'","value":"triangle-up"},{"test":"datum.s=='ES'","value":"triangle-down"},{"test":"datum.s=='HN'","value":"diamond"}],"value":"M0,-1L0.235,-0.324L0.951,-0.309L0.38,0.124L0.588,0.809L0,0.4L-0.588,0.809L-0.38,0.124L-0.951,-0.309L-0.235,-0.324Z"},
  "size":{"condition":[{"test":"datum.s=='RN'","value":45},{"test":"datum.s=='RS'","value":55},{"test":"datum.s=='HS'","value":90}],"value":70}}},
{"transform":[{"filter":"datum.x==-1"}],
 "mark":{"type":"point","filled":true,"opacity":0},
 "encoding":{
  "x":{"field":"x","type":"quantitative","axis":null},
  "y":{"field":"y","type":"quantitative","axis":null},
  "color":{"field":"s","type":"nominal",
   "legend":{"orient":"none","legendX":479,"legendY":-55,"title":null,
    "labelExpr":"datum.label=='RN'?'Rest, Normal':datum.label=='RS'?'Rest, Stenosis':datum.label=='EN'?'Exercise, Normal':datum.label=='ES'?'Exercise, Stenosis':datum.label=='HN'?'10Hz, Normal':'10Hz, Stenosis'",
    "labelFont":"Liberation Sans","labelFontSize":21,"labelColor":"black","labelOffset":21,"labelLimit":400,
    "symbolSize":400,"symbolOffset":11,"symbolStrokeWidth":1.5,"symbolOpacity":1,"rowPadding":5,"padding":7,
    "strokeColor":"black","fillColor":"white",
    "encode":{"symbols":{"update":{"fill":{"scale":"color","field":"value"},"stroke":{"scale":"color","field":"value"},"opacity":{"value":1},"strokeWidth":{"value":1.5}}}}}},
  "shape":{"field":"s","type":"nominal",
   "scale":{"domain":["RN","RS","EN","ES","HN","HS"],"range":[
    "M-2.5,0H2.5M-0.35,-0.35H0.35V0.35H-0.35Z",
    "M-2.5,0H2.5M0.4,0L0.35,0.2L0.2,0.35L0,0.4L-0.2,0.35L-0.35,0.2L-0.4,0L-0.35,-0.2L-0.2,-0.35L0,-0.4L0.2,-0.35L0.35,-0.2Z",
    "M-2.5,0H2.5M0,-0.425L0.45,0.35L-0.45,0.35Z",
    "M-2.5,0H2.5M0,0.425L0.45,-0.35L-0.45,-0.35Z",
    "M-2.5,0H2.5M0,-0.45L0.4,0L0,0.45L-0.4,0Z",
    "M-2.5,0H2.5M0,-0.45L0.105,-0.145L0.4275,-0.14L0.17,0.055L0.265,0.365L0,0.18L-0.265,0.365L-0.17,0.055L-0.4275,-0.14L-0.105,-0.145Z"]},
   "legend":{"orient":"none","legendX":479,"legendY":-55,"title":null,
    "labelExpr":"datum.label=='RN'?'Rest, Normal':datum.label=='RS'?'Rest, Stenosis':datum.label=='EN'?'Exercise, Normal':datum.label=='ES'?'Exercise, Stenosis':datum.label=='HN'?'10Hz, Normal':'10Hz, Stenosis'",
    "labelFont":"Liberation Sans","labelFontSize":21,"labelColor":"black","labelOffset":21,"labelLimit":400,
    "symbolSize":400,"symbolOffset":11,"symbolStrokeWidth":1.5,"symbolOpacity":1,"rowPadding":5,"padding":7,
    "strokeColor":"black","fillColor":"white",
    "encode":{"symbols":{"update":{"fill":{"scale":"color","field":"value"},"stroke":{"scale":"color","field":"value"},"opacity":{"value":1},"strokeWidth":{"value":1.5}}}}}}}},
{"data":{"values":[{}]},
 "mark":{"type":"text","align":"left","baseline":"alphabetic","fontSize":21,"font":"Liberation Sans","color":"black"},
 "encoding":{"x":{"datum":-0.227,"type":"quantitative","axis":null},"y":{"datum":-0.624,"type":"quantitative","axis":null},"text":{"value":"1st Junction"}}},
{"data":{"values":[{}]},
 "mark":{"type":"text","align":"left","baseline":"alphabetic","fontSize":20,"font":"Liberation Sans","color":"black","lineHeight":25},
 "encoding":{"x":{"datum":-0.974,"type":"quantitative","axis":null},"y":{"datum":-0.951,"type":"quantitative","axis":null},"text":{"value":["Left Wall","(Stenosis)"]}}},
{"data":{"values":[{}]},
 "mark":{"type":"text","align":"left","baseline":"alphabetic","fontSize":20,"font":"Liberation Sans","color":"black","lineHeight":25},
 "encoding":{"x":{"datum":0.668,"type":"quantitative","axis":null},"y":{"datum":-0.972,"type":"quantitative","axis":null},"text":{"value":["Right Wall","(Normal)"]}}}
],
"resolve":{"axis":{"x":"independent","y":"independent"}}
}
